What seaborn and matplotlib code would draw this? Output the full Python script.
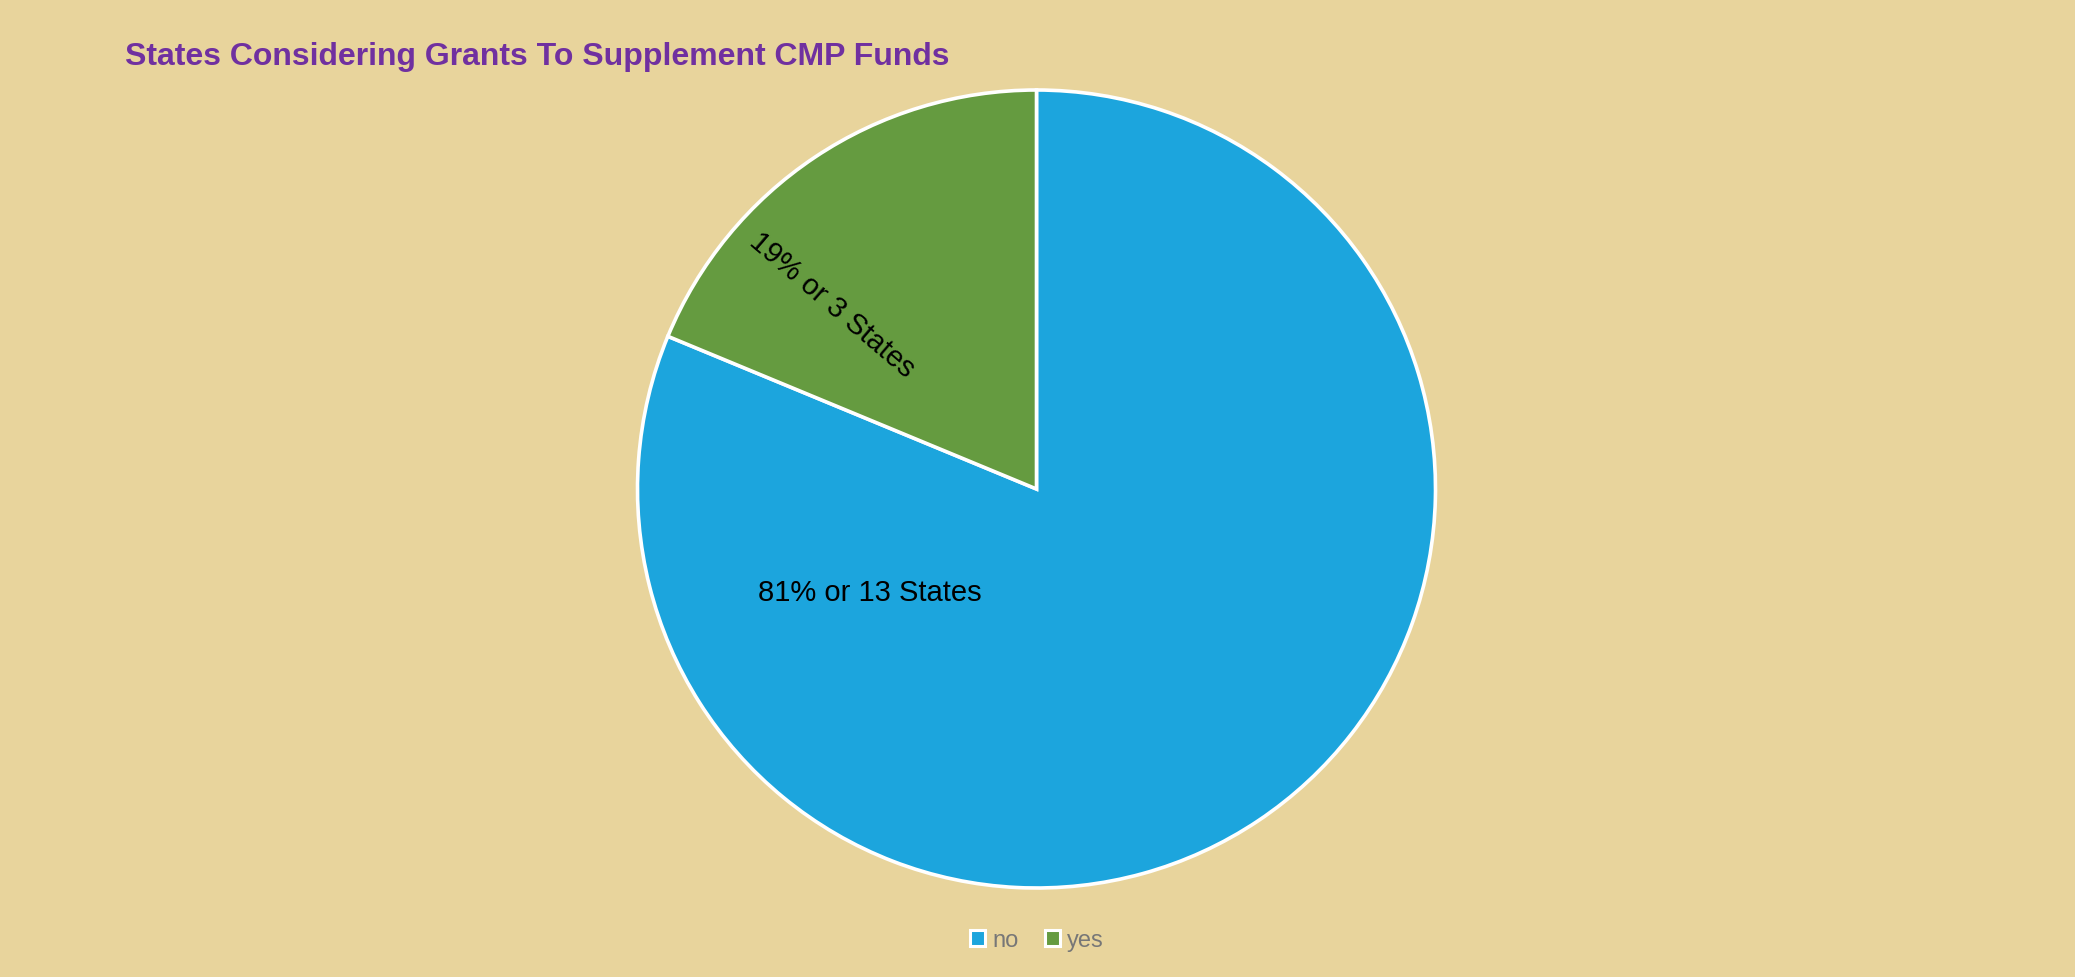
import matplotlib
matplotlib.use("Agg")
import matplotlib.pyplot as plt
from matplotlib.patches import Patch
import seaborn as sns

# data
categories = ["no", "yes"]
states = [13, 3]
slice_labels = ["81% or 13 States", "19% or 3 States"]
colors = ["#1CA5DD", "#659B40"]
title = "States Considering Grants To Supplement CMP Funds"

sns.set_theme(style="white")
plt.rcParams['font.family'] = ['Liberation Sans', 'DejaVu Sans']

W, H = 2075, 978
bg = "#E8D49C"
fig = plt.figure(figsize=(W / 100, H / 100), dpi=100, facecolor=bg)

# pie centre and radius in pixels
cx, cy, r = 1036.5, 490, 399
ax = fig.add_axes([(cx - r) / W, (H - cy - r) / H, 2 * r / W, 2 * r / H])
ax.set_facecolor("none")

wedges, _ = ax.pie(states, colors=colors, startangle=90, counterclock=False,
                   radius=1, wedgeprops=dict(edgecolor="white", linewidth=2.6))
ax.set_xlim(-1, 1)
ax.set_ylim(-1, 1)
ax.set_aspect("auto")
ax.axis("off")

# slice labels
ax.text(-0.418, -0.258, slice_labels[0], fontsize=21, color="black",
        ha="center", va="center")
ax.text(-0.513, 0.462, slice_labels[1], fontsize=21, color="black",
        ha="center", va="center", rotation=-40.5, rotation_mode="anchor")

fig.text(125 / W, 1 - 65 / H, title, fontsize=23, fontweight="bold",
         color="#7030A0", ha="left", va="baseline")

handles = [Patch(facecolor=c, edgecolor="white", linewidth=2.2) for c in colors]
leg = fig.legend(handles, categories, loc="center", bbox_to_anchor=(1037 / W, 1 - 941 / H),
                 ncol=2, frameon=False, fontsize=17, handlelength=0.65, handleheight=0.65,
                 handletextpad=0.3, columnspacing=1.1)
for t in leg.get_texts():
    t.set_color("#777777")

fig.savefig("out.png", dpi=100, facecolor=bg)
